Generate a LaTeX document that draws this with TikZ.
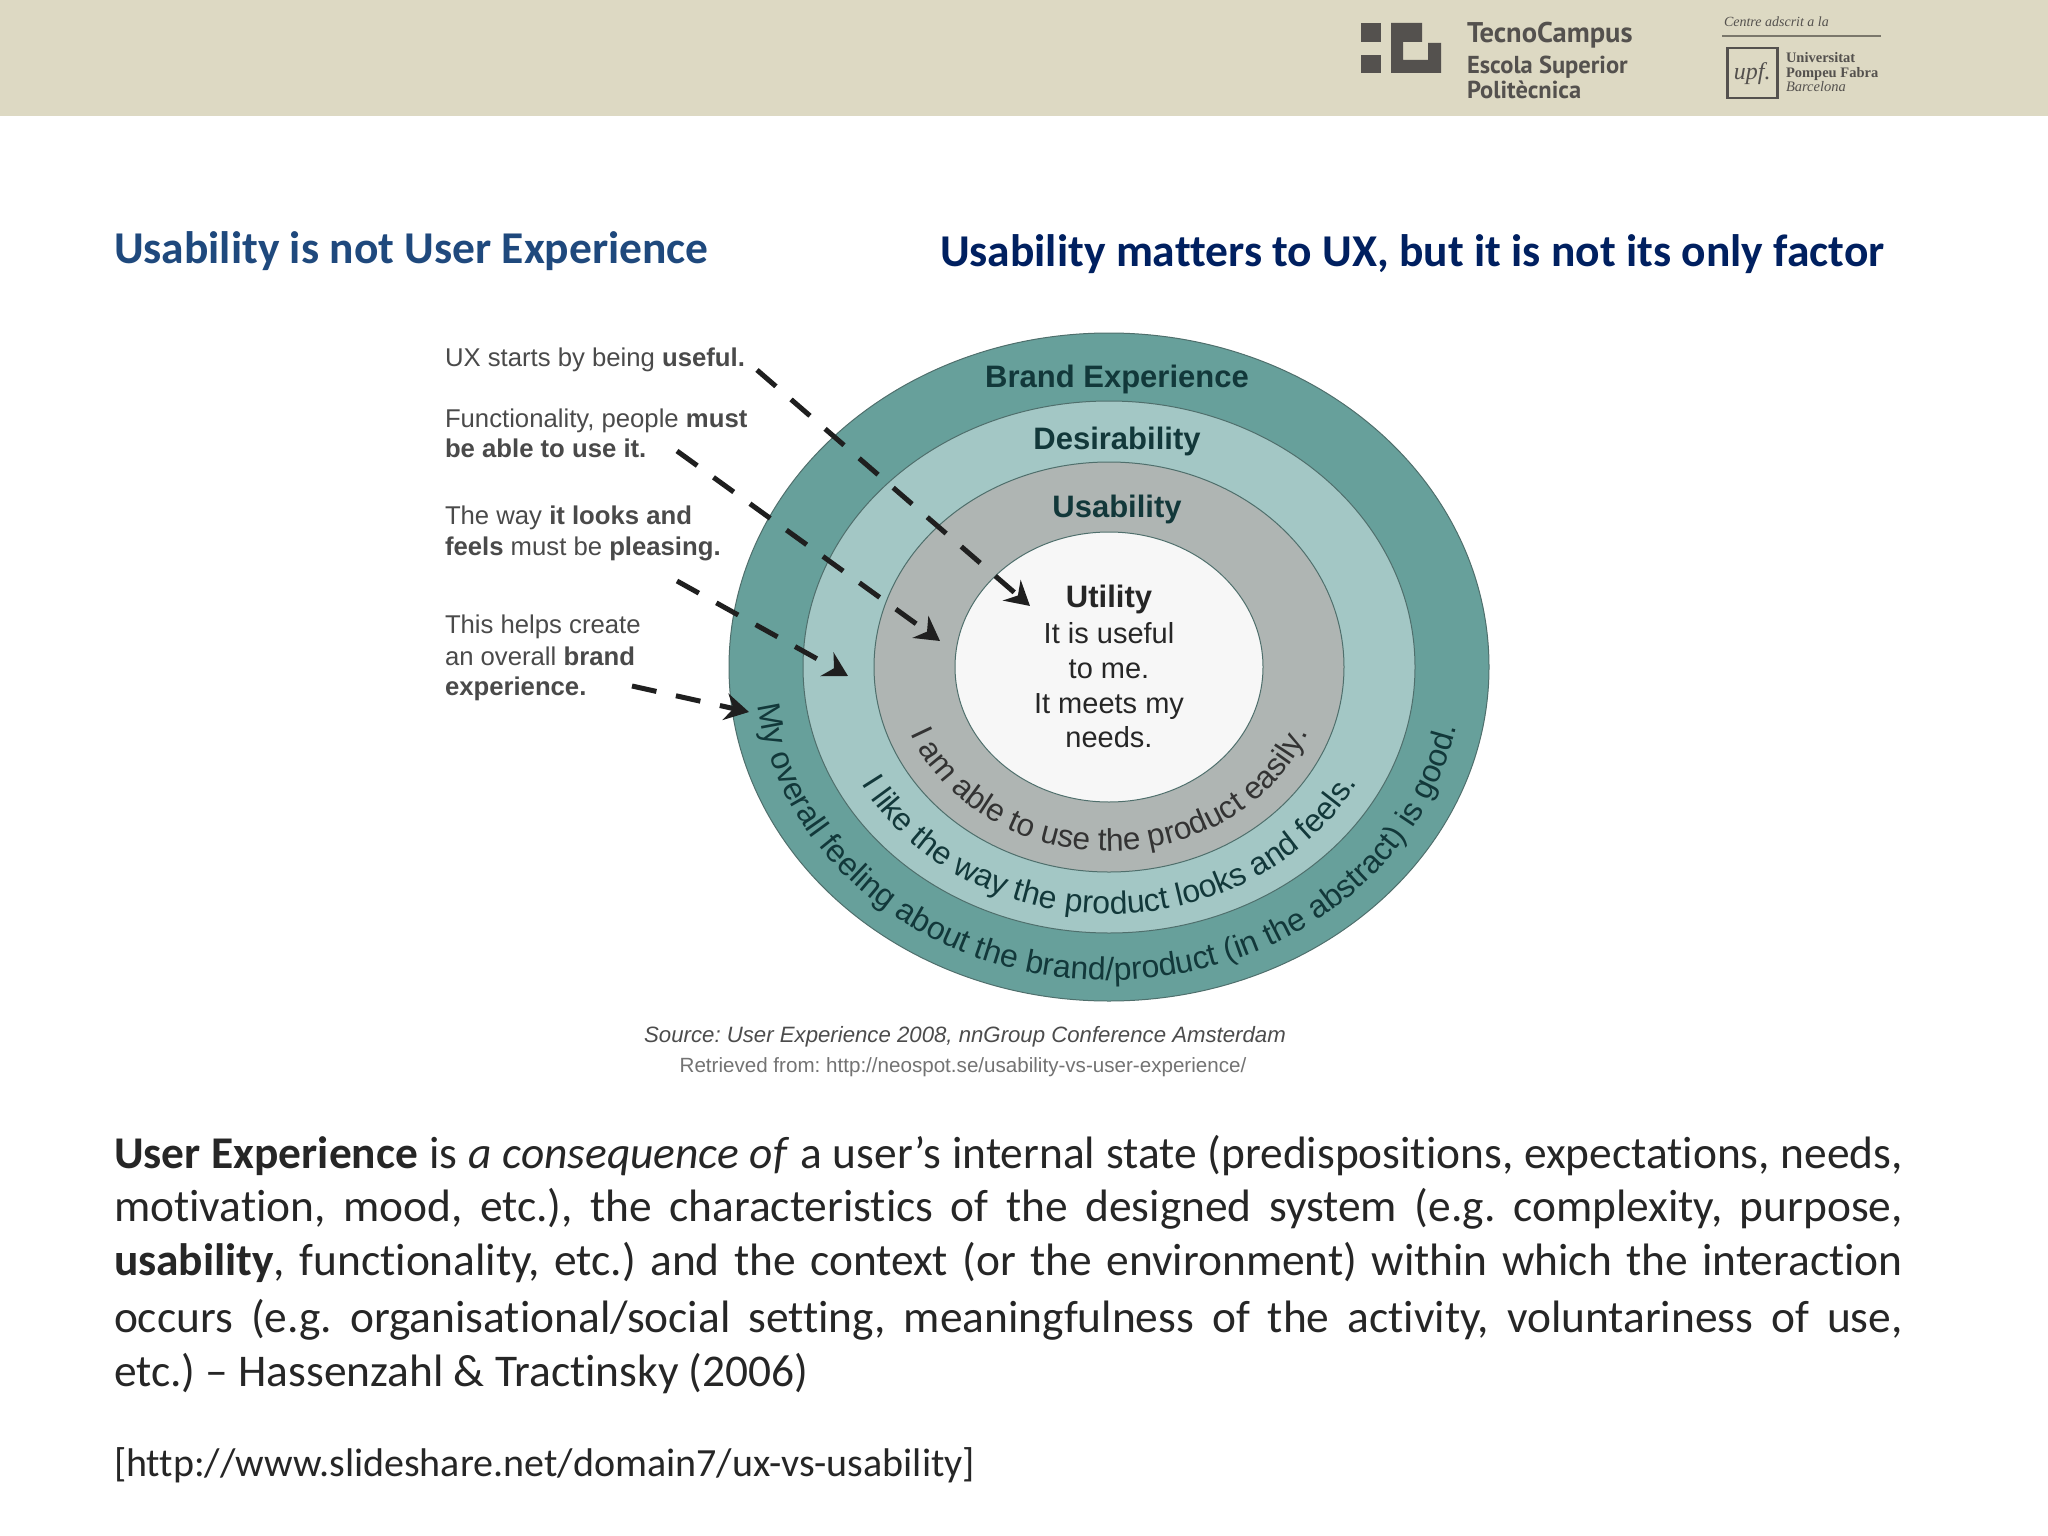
\documentclass[tikz,border=0pt]{standalone}
\usepackage{fontspec}
\usetikzlibrary{decorations.text,arrows.meta}
\setmainfont{Liberation Sans}
\newfontfamily\slidefont[Ligatures=NoCommon]{Carlito}
\newfontfamily\logofont{PT Sans}
\newfontfamily\upffont{Liberation Serif}
\newcommand{\fsz}[1]{\fontsize{#1pt}{#1pt}\selectfont}
\definecolor{bandcol}{HTML}{DDD9C3}
\definecolor{logocol}{HTML}{54514E}
\definecolor{ringa}{HTML}{67A09B}
\definecolor{ringb}{HTML}{A3C7C5}
\definecolor{ringc}{HTML}{AFB5B3}
\definecolor{ringd}{HTML}{F7F7F7}
\definecolor{ringedge}{HTML}{4F6F6C}
\definecolor{titlea}{HTML}{1F497D}
\definecolor{titleb}{HTML}{002060}
\definecolor{bodycol}{HTML}{262626}
\definecolor{labelcol}{HTML}{4A4A4A}
\definecolor{darkteal}{HTML}{12383A}
\tikzset{
  x=1pt,y=1pt,
  txt/.style={anchor=base west,inner sep=0pt,outer sep=0pt},
  ctxt/.style={anchor=base,inner sep=0pt,outer sep=0pt},
  bodyline/.style={txt,font=\slidefont\fsz{45.4},text=bodycol},
  lab/.style={txt,font=\fsz{25.7},text=labelcol},
  ringtitle/.style={ctxt,font=\bfseries\fsz{31},text=darkteal},
  utext/.style={ctxt,font=\fsz{29},text=black!85},
  ring/.style={draw=ringedge,line width=1pt},
  dasharrow/.style={draw=black!88,line width=5pt,dash pattern=on 25pt off 20pt,-{Stealth[length=24pt,width=27pt,inset=8pt]}},
  logotext/.style={txt,font=\logofont\bfseries\fsz{24.5},text=logocol},
  upftext/.style={txt,font=\upffont\bfseries\fsz{14.5},text=logocol},
}
\newcommand{\bl}[1]{\hbox to 1789pt{#1}}
\frenchspacing
\begin{document}
\begin{tikzpicture}
\frenchspacing
\useasboundingbox (0,0) rectangle (2048,-1536);
\fill[white] (0,0) rectangle (2048,-1536);
\fill[bandcol] (0,0) rectangle (2048,-116);
% TecnoCampus logo
\fill[logocol] (1361,-23) rectangle (1381,-42);
\fill[logocol] (1361,-55) rectangle (1381,-73);
\fill[logocol] (1391,-23) -- (1422,-23) -- (1422,-42) -- (1403,-42) -- (1403,-60) -- (1428,-60) -- (1428,-43) -- (1441,-43) -- (1441,-73) -- (1391,-73) -- cycle;
\node[logotext,font=\logofont\bfseries\fsz{28.5}] (tc1) at (1467,-43) {TecnoCampus};
\node[logotext] (tc2) at (1467,-74) {Escola Superior};
\node[logotext] (tc3) at (1467,-99) {Politècnica};
\node[txt,font=\upffont\itshape\fsz{14},text=logocol] (adscrit) at (1724,-27) {Centre adscrit a la};
\draw[draw=black!45!bandcol,line width=2pt] (1722,-36) -- (1881,-36);
\node[draw=logocol,line width=2.5pt,minimum width=50pt,minimum height=50pt,inner sep=0pt,anchor=north west,font=\upffont\itshape\fsz{24},text=logocol] (upfbox) at (1726,-47) {upf.};
\node[upftext] (upf1) at (1786,-63) {Universitat};
\node[upftext] (upf2) at (1786,-78) {Pompeu Fabra};
\node[upftext,font=\upffont\itshape\fsz{14.5}] (upf3) at (1786,-92) {Barcelona};
% Titles
\node[txt,font=\slidefont\bfseries\fsz{45.5},text=titlea] (titleL) at (114,-263) {Usability is not User Experience};
\node[txt,font=\slidefont\bfseries\fsz{45.5},text=titleb] (titleR) at (940,-266) {Usability matters to UX, but it is not its only factor};
% Rings
\filldraw[ring,fill=ringa] (1109,-667) ellipse [x radius=380,y radius=334];
\filldraw[ring,fill=ringb] (1109,-667) ellipse [x radius=306,y radius=266];
\filldraw[ring,fill=ringc] (1109,-667) ellipse [x radius=235,y radius=205];
\filldraw[ring,fill=ringd] (1109,-667) ellipse [x radius=154,y radius=135];
% Ring titles
\node[ringtitle] (brand) at (1117,-387) {Brand Experience};
\node[ringtitle] (desir) at (1117,-449) {Desirability};
\node[ringtitle] (usab) at (1117,-517) {Usability};
\node[ctxt,font=\bfseries\fsz{31},text=black!85] (util) at (1109,-607) {Utility};
\node[utext] (u1) at (1109,-643) {It is useful};
\node[utext] (u2) at (1109,-678) {to me.};
\node[utext] (u3) at (1109,-713) {It meets my};
\node[utext] (u4) at (1109,-747) {needs.};
% Curved texts
\path[decorate,decoration={text along path,text align=center,text={|\fsz{32}\color{darkteal}|My overall feeling about the brand/product (in the abstract) is good.}}]
  (1109,-667) ++(182:354pt and 313pt) arc[start angle=182,end angle=354,x radius=354,y radius=313];
\path[decorate,decoration={text along path,text align=center,text={|\fsz{32}\color{darkteal}|I like the way the product looks and feels.}}]
  (1109,-667) ++(195:281pt and 247pt) arc[start angle=195,end angle=345,x radius=281,y radius=247];
\path[decorate,decoration={text along path,text align=center,text={|\fsz{31.5}\color{black!80}|I am able to use the product easily.}}]
  (1109,-667) ++(190:213pt and 184pt) arc[start angle=190,end angle=350,x radius=213,y radius=184];
% Left labels
\node[lab] (l1) at (445,-366) {UX starts by being \textbf{useful.}};
\node[lab] (l2a) at (445,-427) {Functionality, people \textbf{must}};
\node[lab] (l2b) at (445,-457) {\textbf{be able to use it.}};
\node[lab] (l3a) at (445,-524) {The way \textbf{it looks and}};
\node[lab] (l3b) at (445,-555) {\textbf{feels} must be \textbf{pleasing.}};
\node[lab] (l4a) at (445,-633) {This helps create};
\node[lab] (l4b) at (445,-665) {an overall \textbf{brand}};
\node[lab] (l4c) at (445,-695) {\textbf{experience.}};
% Arrows
\coordinate (a1s) at (757,-370); \coordinate (a1e) at (1030,-606);
\coordinate (a2s) at (677,-451); \coordinate (a2e) at (940,-641);
\coordinate (a3s) at (677,-581); \coordinate (a3e) at (848,-676);
\coordinate (a4s) at (632,-686); \coordinate (a4e) at (749,-712);
\draw[dasharrow] (a1s) -- (a1e);
\draw[dasharrow] (a2s) -- (a2e);
\draw[dasharrow] (a3s) -- (a3e);
\draw[dasharrow] (a4s) -- (a4e);
% Source
\node[ctxt,font=\itshape\fsz{22.2},text=black!70] (src) at (965,-1042) {Source: User Experience 2008, nnGroup Conference Amsterdam};
\node[ctxt,font=\fsz{20.6},text=black!55] (ret) at (963,-1072) {Retrieved from: http://neospot.se/usability-vs-user-experience/};
% Body
\node[bodyline] (b1) at (114,-1168) {\bl{\textbf{User Experience} is \textit{a consequence of} a user’s internal state (predispositions, expectations, needs,}};
\node[bodyline] (b2) at (114,-1221) {\bl{motivation, mood, etc.), the characteristics of the designed system (e.g. complexity, purpose,}};
\node[bodyline] (b3) at (114,-1275) {\bl{\textbf{usability}, functionality, etc.) and the context (or the environment) within which the interaction}};
\node[bodyline] (b4) at (114,-1332) {\bl{occurs (e.g. organisational/social setting, meaningfulness of the activity, voluntariness of use,}};
\node[bodyline] (b5) at (114,-1386) {etc.) – Hassenzahl \& Tractinsky (2006)};
\node[bodyline,font=\slidefont\fsz{40}] (url) at (114,-1476) {[http://www.slideshare.net/domain7/ux-vs-usability]};
\end{tikzpicture}
\end{document}
